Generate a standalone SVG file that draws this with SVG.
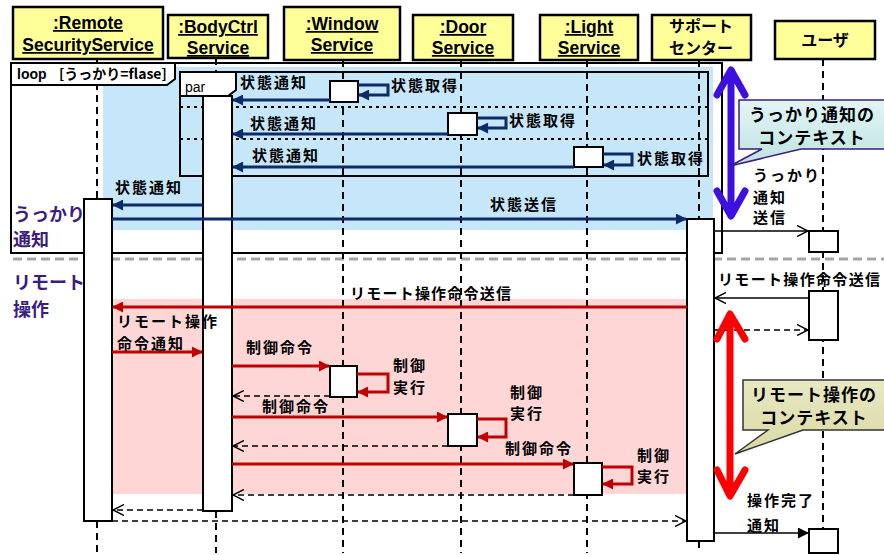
<svg xmlns="http://www.w3.org/2000/svg" width="884" height="555" viewBox="0 0 884 555">
<defs>
<style>
.hdr{fill:#FFFF99;stroke:#000;stroke-width:2.5}
.ht{font-family:"Liberation Sans",Arial,sans-serif;font-weight:bold;font-size:17.5px;text-anchor:middle;text-decoration:underline;fill:#000}
.hj{font-family:"Noto Sans CJK JP","Liberation Sans",sans-serif;font-weight:bold;font-size:16px;text-anchor:middle;fill:#000}
.life{stroke:#000;stroke-width:2;stroke-dasharray:7 5;fill:none}
.act{fill:#fff;stroke:#000;stroke-width:2}
.j{font-family:"Noto Sans CJK JP","Liberation Sans",sans-serif;font-weight:bold;font-size:15px;letter-spacing:2px;fill:#000}
.pl{font-family:"Noto Sans CJK JP","Liberation Sans",sans-serif;font-weight:bold;font-size:18px;fill:#3B1C80}
.cj{font-family:"Noto Sans CJK JP","Liberation Sans",sans-serif;font-weight:bold;font-size:17px;letter-spacing:1px;text-anchor:middle;fill:#000}
.nv{stroke:#0D2B6B;stroke-width:3;fill:none}
.rd{stroke:#C00000;stroke-width:3;fill:none}
.bk{stroke:#000;stroke-width:1.5;fill:none}
.ret{stroke:#000;stroke-width:1.5;stroke-dasharray:6 4;fill:none}
.frame{fill:none;stroke:#000;stroke-width:2}
.lbl{font-family:"Liberation Sans",Arial,sans-serif;font-size:14px;fill:#000}
</style>
<marker id="an" viewBox="0 0 12 12" refX="11" refY="6" markerWidth="12" markerHeight="11" markerUnits="userSpaceOnUse" orient="auto"><path d="M0,0 L12,6 L0,12 Z" fill="#0D2B6B"/></marker>
<marker id="ar" viewBox="0 0 12 12" refX="11" refY="6" markerWidth="12" markerHeight="11" markerUnits="userSpaceOnUse" orient="auto"><path d="M0,0 L12,6 L0,12 Z" fill="#C00000"/></marker>
<marker id="ab" viewBox="0 0 12 12" refX="11" refY="6" markerWidth="12" markerHeight="11" markerUnits="userSpaceOnUse" orient="auto"><path d="M0,0 L12,6 L0,12 Z" fill="#000"/></marker>
<marker id="ao" viewBox="0 0 12 12" refX="11" refY="6" markerWidth="12" markerHeight="12" markerUnits="userSpaceOnUse" orient="auto"><path d="M0,0.5 L11,6 L0,11.5" fill="none" stroke="#000" stroke-width="1.5"/></marker>
<linearGradient id="gb" x1="0" y1="0" x2="0" y2="1"><stop offset="0" stop-color="#E2F5F5"/><stop offset="1" stop-color="#BFE2E2"/></linearGradient>
<linearGradient id="gy" x1="0" y1="0" x2="0" y2="1"><stop offset="0" stop-color="#E8E8C2"/><stop offset="1" stop-color="#D9D9A6"/></linearGradient>
</defs>
<rect width="884" height="555" fill="#fff"/>

<!-- regions -->
<rect x="103" y="67" width="610" height="163" fill="#C6E6F9"/>
<rect x="112" y="299" width="574" height="195" fill="#FFD6D6"/>
<line x1="13" y1="259" x2="884" y2="259" stroke="#A6A6A6" stroke-width="3" stroke-dasharray="9 5"/>

<!-- lifelines -->
<g id="lifelines">
<line class="life" x1="97" y1="59" x2="97" y2="199"/><line class="life" x1="97" y1="521" x2="97" y2="553"/>
<line class="life" x1="216" y1="58" x2="216" y2="96"/><line class="life" x1="216" y1="511" x2="216" y2="553"/>
<line class="life" x1="343" y1="60" x2="343" y2="553"/>
<line class="life" x1="461" y1="60" x2="461" y2="553"/>
<line class="life" x1="587" y1="60" x2="587" y2="553"/>
<line class="life" x1="699" y1="60" x2="699" y2="219"/><line class="life" x1="699" y1="541" x2="699" y2="553"/>
<line class="life" x1="823" y1="59" x2="823" y2="553"/>
</g>

<!-- frames -->
<g id="loop">
<rect class="frame" x="11" y="63" width="711" height="190"/>
<path d="M11,63 H175 V79 L167,85 H11 Z" fill="#fff" stroke="#000" stroke-width="2"/>
<text class="lbl" x="17" y="79" font-weight="bold">loop</text>
<text x="59" y="79" font-family="Noto Sans CJK JP, Liberation Sans, sans-serif" font-weight="bold" font-size="14" fill="#000">[うっかり=flase]</text>
</g>
<g id="par">
<rect class="frame" x="180" y="72" width="528" height="104"/>
<path d="M180,72 H236 V90 L228,96 H180 Z" fill="#fff" stroke="#000" stroke-width="2"/>
<text class="lbl" x="185" y="92">par</text>
<line x1="180" y1="107" x2="708" y2="107" stroke="#000" stroke-width="2" stroke-dasharray="3 4"/>
<line x1="180" y1="139" x2="708" y2="139" stroke="#000" stroke-width="2" stroke-dasharray="3 4"/>
</g>

<!-- headers -->
<g id="remote"><rect class="hdr" x="13" y="7" width="150" height="52"/><text class="ht" x="88" y="29">:Remote</text><text class="ht" x="88" y="51">SecurityService</text></g>
<g id="bodyctrl"><rect class="hdr" x="168" y="15" width="100" height="43"/><text class="ht" x="218" y="33">:BodyCtrl</text><text class="ht" x="218" y="54">Service</text></g>
<g id="window"><rect class="hdr" x="284" y="7" width="116" height="53"/><text class="ht" x="342" y="30">:Window</text><text class="ht" x="342" y="51">Service</text></g>
<g id="door"><rect class="hdr" x="413" y="15" width="100" height="45"/><text class="ht" x="463" y="33">:Door</text><text class="ht" x="463" y="54">Service</text></g>
<g id="light"><rect class="hdr" x="540" y="15" width="98" height="45"/><text class="ht" x="589" y="33">:Light</text><text class="ht" x="589" y="54">Service</text></g>
<g id="support"><rect class="hdr" x="652" y="15" width="99" height="45"/><text class="hj" x="701" y="32">サポート</text><text class="hj" x="701" y="54">センター</text></g>
<g id="user"><rect class="hdr" x="775" y="21" width="100" height="38"/><text class="hj" x="825" y="46">ユーザ</text></g>

<!-- activations -->
<g id="activations">
<rect class="act" x="84" y="199" width="28" height="322"/>
<rect class="act" x="203" y="96" width="29" height="415"/>
<rect class="act" x="330" y="81" width="28" height="21"/>
<rect class="act" x="448" y="113" width="29" height="22"/>
<rect class="act" x="574" y="147" width="29" height="20"/>
<rect class="act" x="687" y="219" width="27" height="322"/>
<rect class="act" x="809" y="231" width="29" height="21"/>
<rect class="act" x="809" y="291" width="29" height="49"/>
<rect class="act" x="330" y="366" width="27" height="31"/>
<rect class="act" x="448" y="414" width="29" height="32"/>
<rect class="act" x="574" y="463" width="28" height="32"/>
<rect class="act" x="809" y="529" width="29" height="24"/>
</g>

<!-- connectors -->
<g id="connectors">
<line class="nv" x1="330" y1="100" x2="233" y2="100" marker-end="url(#an)"/>
<polyline class="nv" points="358,85 388,85 388,95 359,95" marker-end="url(#an)"/>
<line class="nv" x1="448" y1="134" x2="233" y2="134" marker-end="url(#an)"/>
<polyline class="nv" points="477,118 506,118 506,128 478,128" marker-end="url(#an)"/>
<line class="nv" x1="574" y1="167" x2="233" y2="167" marker-end="url(#an)"/>
<polyline class="nv" points="603,154 632,154 632,165 604,165" marker-end="url(#an)"/>
<line class="nv" x1="203" y1="205" x2="113" y2="205" marker-end="url(#an)"/>
<line class="nv" x1="112" y1="219" x2="686" y2="219" marker-end="url(#an)"/>
<line class="bk" x1="714" y1="231" x2="808" y2="231" marker-end="url(#ao)"/>

<line class="rd" x1="687" y1="307" x2="113" y2="307" marker-end="url(#ar)"/>
<line class="bk" x1="809" y1="298" x2="715" y2="298" marker-end="url(#ao)"/>
<line class="ret" x1="714" y1="330" x2="808" y2="330" marker-end="url(#ao)"/>
<line class="rd" x1="112" y1="352" x2="202" y2="352" marker-end="url(#ar)"/>
<line class="rd" x1="232" y1="366" x2="329" y2="366" marker-end="url(#ar)"/>
<polyline class="rd" points="357,374 388,374 388,392 358,392" marker-end="url(#ar)"/>
<line class="ret" x1="330" y1="396" x2="233" y2="396" marker-end="url(#ao)"/>
<line class="rd" x1="232" y1="417" x2="447" y2="417" marker-end="url(#ar)"/>
<polyline class="rd" points="477,419 506,419 506,437 478,437" marker-end="url(#ar)"/>
<line class="ret" x1="448" y1="446" x2="233" y2="446" marker-end="url(#ao)"/>
<line class="rd" x1="232" y1="464" x2="573" y2="464" marker-end="url(#ar)"/>
<polyline class="rd" points="602,467 632,467 632,484 603,484" marker-end="url(#ar)"/>
<line class="ret" x1="574" y1="495" x2="233" y2="495" marker-end="url(#ao)"/>
<line class="ret" x1="203" y1="510" x2="113" y2="510" marker-end="url(#ao)"/>
<line class="ret" x1="112" y1="521" x2="686" y2="521" marker-end="url(#ao)"/>
<line class="bk" x1="714" y1="533" x2="808" y2="533" marker-end="url(#ab)"/>
</g>

<!-- message labels -->
<g id="labels">
<text class="j" x="240" y="88">状態通知</text>
<text class="j" x="391" y="91">状態取得</text>
<text class="j" x="250" y="129">状態通知</text>
<text class="j" x="509" y="126">状態取得</text>
<text class="j" x="252" y="161">状態通知</text>
<text class="j" x="637" y="164">状態取得</text>
<text class="j" x="115" y="193">状態通知</text>
<text class="j" x="490" y="210">状態送信</text>
<text class="j" x="753" y="181">うっかり</text>
<text class="j" x="753" y="203">通知</text>
<text class="j" x="753" y="223">送信</text>
<text class="j" x="350" y="299" textLength="163">リモート操作命令送信</text>
<text class="j" x="718" y="285" textLength="164">リモート操作命令送信</text>
<text class="j" x="117" y="327">リモート操作</text>
<text class="j" x="117" y="349">命令通知</text>
<text class="j" x="246" y="353">制御命令</text>
<text class="j" x="393" y="371">制御</text>
<text class="j" x="393" y="393">実行</text>
<text class="j" x="262" y="412">制御命令</text>
<text class="j" x="510" y="398">制御</text>
<text class="j" x="510" y="419">実行</text>
<text class="j" x="505" y="454">制御命令</text>
<text class="j" x="637" y="461">制御</text>
<text class="j" x="637" y="482">実行</text>
<text class="j" x="747" y="506">操作完了</text>
<text class="j" x="747" y="531">通知</text>
</g>

<!-- section labels -->
<text class="pl" x="13" y="221">うっかり</text>
<text class="pl" x="13" y="246">通知</text>
<text class="pl" x="13" y="289">リモート</text>
<text class="pl" x="13" y="316">操作</text>

<!-- context arrows -->
<g id="blue-context">
<path d="M731,72 V215 M717,95 L731,70 L745,95 M717,191 L731,216 L745,191" fill="none" stroke="#3D0FE0" stroke-width="7" stroke-linecap="round" stroke-linejoin="round"/>
<path d="M739,100 H886 V149 H801 L730,166 L762,149 H739 Z" fill="url(#gb)" stroke="#3C1C7C" stroke-width="1.5"/>
<text class="cj" x="812" y="121">うっかり通知の</text>
<text class="cj" x="812" y="144">コンテキスト</text>
</g>
<g id="red-context">
<path d="M730,316 V494 M717,339 L730,314 L745,339 M717,470 L730,496 L745,470" fill="none" stroke="#FF0000" stroke-width="7" stroke-linecap="round" stroke-linejoin="round"/>
<path d="M743,380 H886 V430 H803 L735,454 L768,430 H743 Z" fill="url(#gy)" stroke="#333" stroke-width="1.5"/>
<text class="cj" x="814" y="401">リモート操作の</text>
<text class="cj" x="814" y="424">コンテキスト</text>
</g>
</svg>
